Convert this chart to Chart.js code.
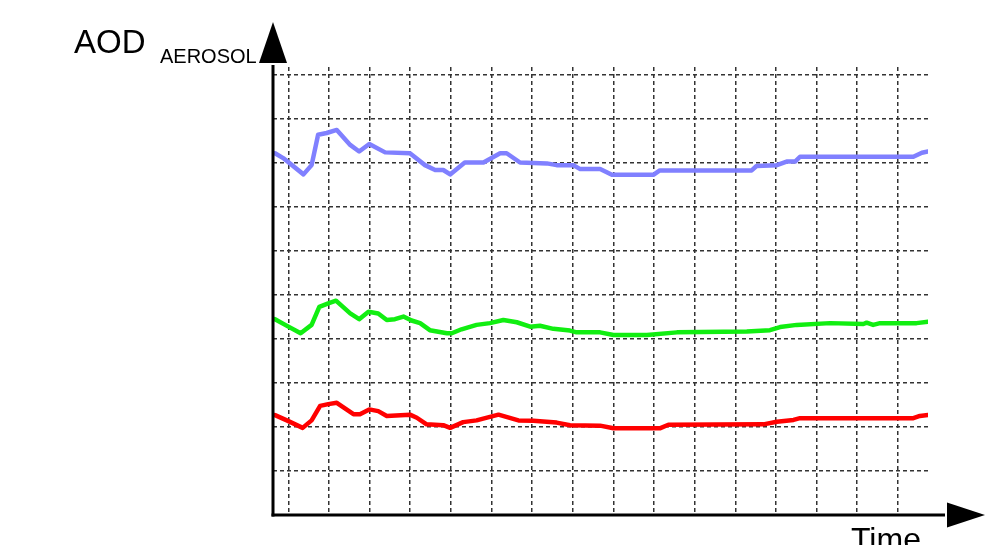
<!DOCTYPE html>
<html>
<head>
<meta charset="utf-8">
<script src="https://cdn.jsdelivr.net/npm/chart.js@4/dist/chart.umd.min.js"></script>
<style>
  html, body { margin: 0; padding: 0; background: #fff; }
  #wrap { width: 999px; height: 545px; }
</style>
</head>
<body>
<div id="wrap"><canvas id="c" width="999" height="545"></canvas></div>
<script>
// ---- data (time in grid cells, AOD in grid units) ----
const blueTime  = [0.05,0.25,0.75,0.95,1.11,1.32,1.57,1.90,2.12,2.37,2.76,3.37,3.74,3.99,4.19,4.36,4.72,5.18,5.59,5.75,6.08,6.74,6.98,7.39,7.56,8.05,8.34,9.36,9.52,11.78,11.90,12.40,12.64,12.85,12.97,15.76,15.97,16.12];
const blueAOD   = [8.22,8.11,7.74,7.95,8.64,8.68,8.75,8.41,8.26,8.43,8.24,8.22,7.95,7.84,7.84,7.74,8.01,8.01,8.22,8.22,8.01,7.99,7.95,7.95,7.86,7.86,7.73,7.73,7.83,7.83,7.93,7.95,8.03,8.03,8.14,8.14,8.23,8.26];

const greenTime = [0.05,0.30,0.68,0.95,1.14,1.36,1.55,1.90,2.12,2.35,2.59,2.80,3.00,3.21,3.41,3.62,3.86,4.28,4.40,4.64,5.01,5.34,5.67,6.00,6.33,6.57,6.90,7.31,7.47,8.05,8.38,9.20,9.94,11.66,12.23,12.48,12.89,13.71,14.53,14.61,14.77,14.94,15.84,16.12];
const greenAOD  = [4.45,4.32,4.13,4.32,4.73,4.81,4.87,4.58,4.45,4.62,4.58,4.43,4.45,4.51,4.42,4.36,4.20,4.13,4.13,4.22,4.32,4.36,4.43,4.38,4.28,4.30,4.23,4.19,4.15,4.15,4.09,4.09,4.15,4.17,4.20,4.27,4.32,4.36,4.34,4.37,4.32,4.36,4.36,4.39];

const redTime   = [0.05,0.34,0.73,0.95,1.16,1.36,1.57,1.98,2.14,2.37,2.59,2.80,3.37,3.54,3.78,4.19,4.36,4.68,5.01,5.55,6.04,6.41,6.57,6.98,7.31,8.05,8.38,9.52,9.73,12.07,12.40,12.81,12.97,15.76,15.92,16.12];
const redAOD    = [2.27,2.15,1.98,2.15,2.48,2.52,2.55,2.29,2.29,2.40,2.36,2.25,2.28,2.21,2.06,2.04,1.98,2.11,2.15,2.28,2.15,2.14,2.13,2.10,2.04,2.03,1.97,1.97,2.05,2.06,2.12,2.16,2.20,2.20,2.25,2.27];

// grid positions (no tick labels shown)
const timeGrid = [0.377,1.377,2.377,3.377,4.377,5.377,6.377,7.377,8.377,9.377,10.377,11.377,12.377,13.377,14.377,15.377];
const aodGrid  = [1,2,3,4,5,6,7,8,9,10];

const yLabelMain = 'AOD';
const yLabelSub  = 'AEROSOL';
const xLabel     = 'Time';

function pts(xs, ys) { return xs.map((v, i) => ({ x: v, y: ys[i] })); }

const FONT = '"Liberation Sans", Arial, sans-serif';

const arrowAxes = {
  id: 'arrowAxes',
  afterDraw(chart) {
    const { ctx, chartArea, scales } = chart;
    const x0 = scales.x.getPixelForValue(0);
    const y0 = scales.y.getPixelForValue(0);
    ctx.save();
    ctx.strokeStyle = '#000';
    ctx.fillStyle = '#000';
    ctx.lineWidth = 3;
    // y axis
    const yBase = chartArea.top - 4, yTip = chartArea.top - 45;
    ctx.beginPath(); ctx.moveTo(x0, y0 + 1.5); ctx.lineTo(x0, yBase + 2); ctx.stroke();
    ctx.beginPath(); ctx.moveTo(x0, yTip); ctx.lineTo(x0 - 14, yBase); ctx.lineTo(x0 + 14, yBase); ctx.closePath(); ctx.fill();
    // x axis
    const xBase = chartArea.right + 19, xTip = chartArea.right + 57;
    ctx.beginPath(); ctx.moveTo(x0 - 1.5, y0); ctx.lineTo(xBase - 2, y0); ctx.stroke();
    ctx.beginPath(); ctx.moveTo(xTip, y0); ctx.lineTo(xBase, y0 - 12.5); ctx.lineTo(xBase, y0 + 12.5); ctx.closePath(); ctx.fill();
    // labels
    ctx.textBaseline = 'alphabetic';
    ctx.textAlign = 'left';
    ctx.font = '33px ' + FONT;
    ctx.fillText(yLabelMain, 74, 53);
    ctx.font = '20px ' + FONT;
    ctx.fillText(yLabelSub, 160, 63);
    ctx.font = '32px ' + FONT;
    ctx.fillText(xLabel, 851, 550);
    ctx.restore();
  }
};

const gridCommon = { color: '#333', lineWidth: 1.5, drawTicks: false };

new Chart(document.getElementById('c'), {
  type: 'line',
  data: {
    datasets: [
      { data: pts(blueTime, blueAOD),   borderColor: '#8080ff', borderWidth: 4.5 },
      { data: pts(greenTime, greenAOD), borderColor: '#11ee11', borderWidth: 4.5 },
      { data: pts(redTime, redAOD),     borderColor: '#ff0000', borderWidth: 4.5 }
    ]
  },
  options: {
    responsive: false,
    animation: false,
    events: [],
    layout: { padding: { left: 273, right: 71, top: 67, bottom: 30 } },
    elements: { point: { radius: 0 }, line: { tension: 0, borderJoinStyle: 'round', borderCapStyle: 'round' } },
    plugins: { legend: { display: false }, tooltip: { enabled: false }, title: { display: false } },
    scales: {
      x: {
        type: 'linear', min: 0, max: 16.12,
        grid: gridCommon,
        border: { display: false, dash: [4, 3] },
        ticks: { display: false },
        afterBuildTicks: s => { s.ticks = timeGrid.map(v => ({ value: v })); }
      },
      y: {
        type: 'linear', min: 0, max: 10.18,
        grid: gridCommon,
        border: { display: false, dash: [4, 3] },
        ticks: { display: false },
        afterBuildTicks: s => { s.ticks = aodGrid.map(v => ({ value: v })); }
      }
    }
  },
  plugins: [arrowAxes]
});
</script>
</body>
</html>
